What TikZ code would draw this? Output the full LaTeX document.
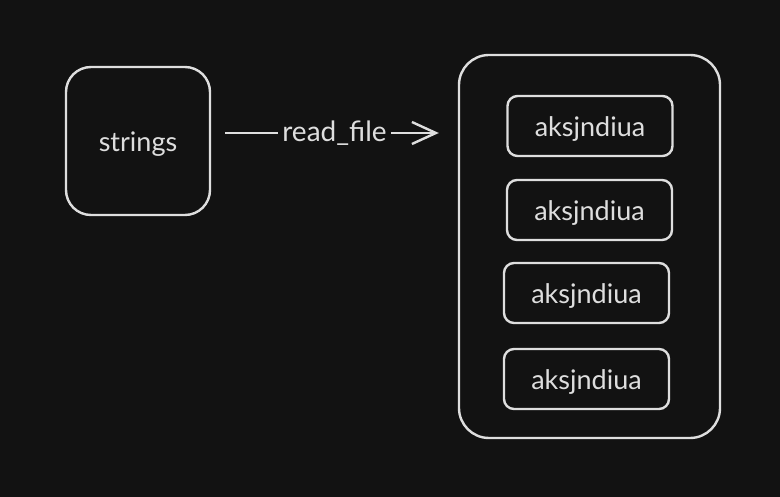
\documentclass[tikz,border=0pt]{standalone}
\usepackage{fontspec}
\setmainfont{Lato}
\usetikzlibrary{arrows.meta}
\definecolor{bg}{HTML}{121212}
\definecolor{ink}{HTML}{DEDEDE}
\tikzset{
  sk/.style={draw=ink, line width=2.4pt, text=ink, inner sep=0pt, font=\fontsize{27}{30}\selectfont},
  bigbox/.style={sk, rounded corners=25pt, minimum width=144pt, minimum height=148pt},
  outerbox/.style={sk, rounded corners=30pt, minimum width=261pt, minimum height=383pt},
  itembox/.style={sk, rounded corners=10pt, minimum width=165pt, minimum height=60pt},
  conn/.style={draw=ink, line width=2.4pt, -{Straight Barb[length=24pt, width=22pt, line width=2.4pt]}},
  lbl/.style={fill=bg, text=ink, inner sep=4pt, font=\fontsize{28}{30}\selectfont}
}
\newcommand{\lowtxt}[1]{\raisebox{-3.5pt}[\height][\depth]{#1}}
\begin{document}
\begin{tikzpicture}[x=1pt, y=-1pt]
\fill[bg] (0,0) rectangle (780,497);
\useasboundingbox (0,0) rectangle (780,497);
\node[bigbox] (strings) at (138,141) {\lowtxt{strings}};
\node[outerbox] (outer) at (589.5,246.5) {};
\node[itembox] (i1) at (590,126) {\lowtxt{aksjndiua}};
\node[itembox] (i2) at (589.5,210) {\lowtxt{aksjndiua}};
\node[itembox] (i3) at (586.5,293) {\lowtxt{aksjndiua}};
\node[itembox] (i4) at (586.5,379) {\lowtxt{aksjndiua}};
\coordinate (ay) at (0,133);
\draw[conn, shorten <=14pt, shorten >=19pt] (strings.east |- ay) -- node[lbl] {read\_file} (outer.west |- ay);
\end{tikzpicture}
\end{document}
